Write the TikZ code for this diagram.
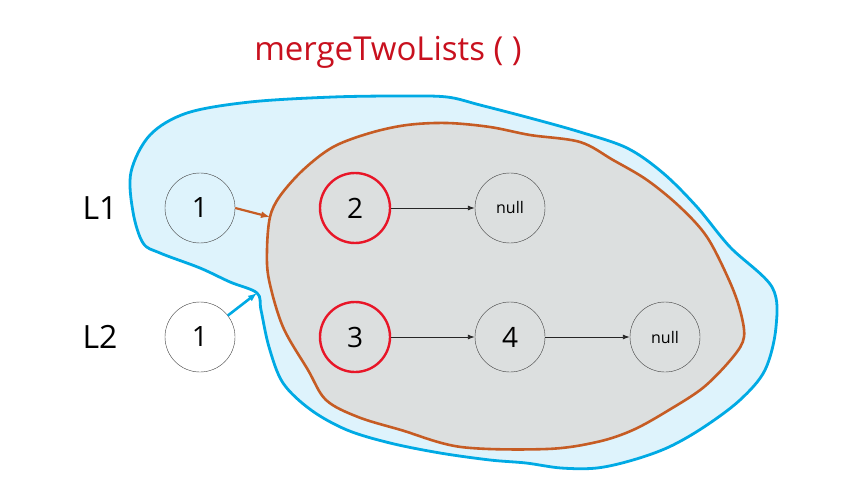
\documentclass[tikz,border=0pt]{standalone}
\usepackage{fontspec}
\setmainfont{Open Sans}
\usepackage{xcolor}
\usetikzlibrary{positioning, arrows.meta}

\definecolor{skyline}{RGB}{0,170,228}
\definecolor{skyfill}{RGB}{222,243,252}
\definecolor{rust}{RGB}{198,92,36}
\definecolor{ashfill}{RGB}{220,223,223}
\definecolor{hotred}{RGB}{232,22,40}
\definecolor{titlered}{RGB}{200,16,30}

\begin{document}
\begin{tikzpicture}[
    x=1pt, y=-1pt,
    lnode/.style={draw=black!75, circle, minimum size=70pt, inner sep=0pt, font=\fontsize{28}{30}\selectfont},
    rnode/.style={lnode, draw=hotred, line width=2.4pt},
    nnode/.style={lnode, font=\fontsize{16}{18}\selectfont},
    lname/.style={font=\fontsize{32}{34}\selectfont},
    nxt/.style={-{Latex[length=7pt, width=5pt]}, line width=0.9pt, black!85},
]
\useasboundingbox (0,0) rectangle (842,494);

% outer blob
\draw[skyline, line width=2.8pt, fill=skyfill] plot[smooth cycle, tension=0.55] coordinates {
    (257,293) (230,282) (200,268) (160,253) (143,243) (133,212) (131,172)
    (150,135) (187,113) (250,102) (333,97) (403,96) (447,97) (480,105)
    (530,118) (580,132) (627,148) (663,173) (697,207) (730,247) (772,287)
    (776,327) (765,370) (740,400) (704,427) (669,447) (633,460) (597,468)
    (561,468) (526,463) (490,460) (440,453) (390,443) (347,430) (311,410)
    (283,383) (269,347) (261,310)};

% inner blob
\draw[rust, line width=2.6pt, fill=ashfill] plot[smooth cycle, tension=0.55] coordinates {
    (270,217) (280,196) (303,170) (333,147) (370,133) (407,125) (447,123)
    (490,127) (530,135) (580,142) (613,160) (647,180) (680,207) (707,237)
    (729,280) (740,310) (744,337) (733,357) (704,387) (669,410) (633,430)
    (597,442) (547,449) (461,447) (401,430) (358,417) (326,400) (308,370)
    (283,327) (269,280) (267,250)};

\coordinate (hitA) at (270,217);
\coordinate (hitB) at (257,293);

\node[font=\fontsize{33}{35}\selectfont, text=titlered] (title) at (388,52) {mergeTwoLists ( )};

\node[lname] (l1) at (100,208) {L1};
\node[lname] (l2) at (100,337) {L2};

\node[lnode] (a1) at (200,208) {1};
\node[rnode] (a2) at (355,208) {2};
\node[nnode] (an) at (510,208) {null};

\node[lnode] (b1) at (200,337) {1};
\node[rnode] (b3) at (355,337) {3};
\node[lnode] (b4) at (510,337) {4};
\node[nnode] (bn) at (665,337) {null};

\draw[nxt] (a2) -- (an);
\draw[nxt] (b3) -- (b4);
\draw[nxt] (b4) -- (bn);

\draw[rust, line width=2.2pt, -{Latex[length=9pt, width=7pt]}] (a1.east) -- (hitA);
\draw[skyline, line width=2.6pt, -{Latex[length=9pt, width=7pt]}] (b1) -- (hitB);
\end{tikzpicture}
\end{document}
